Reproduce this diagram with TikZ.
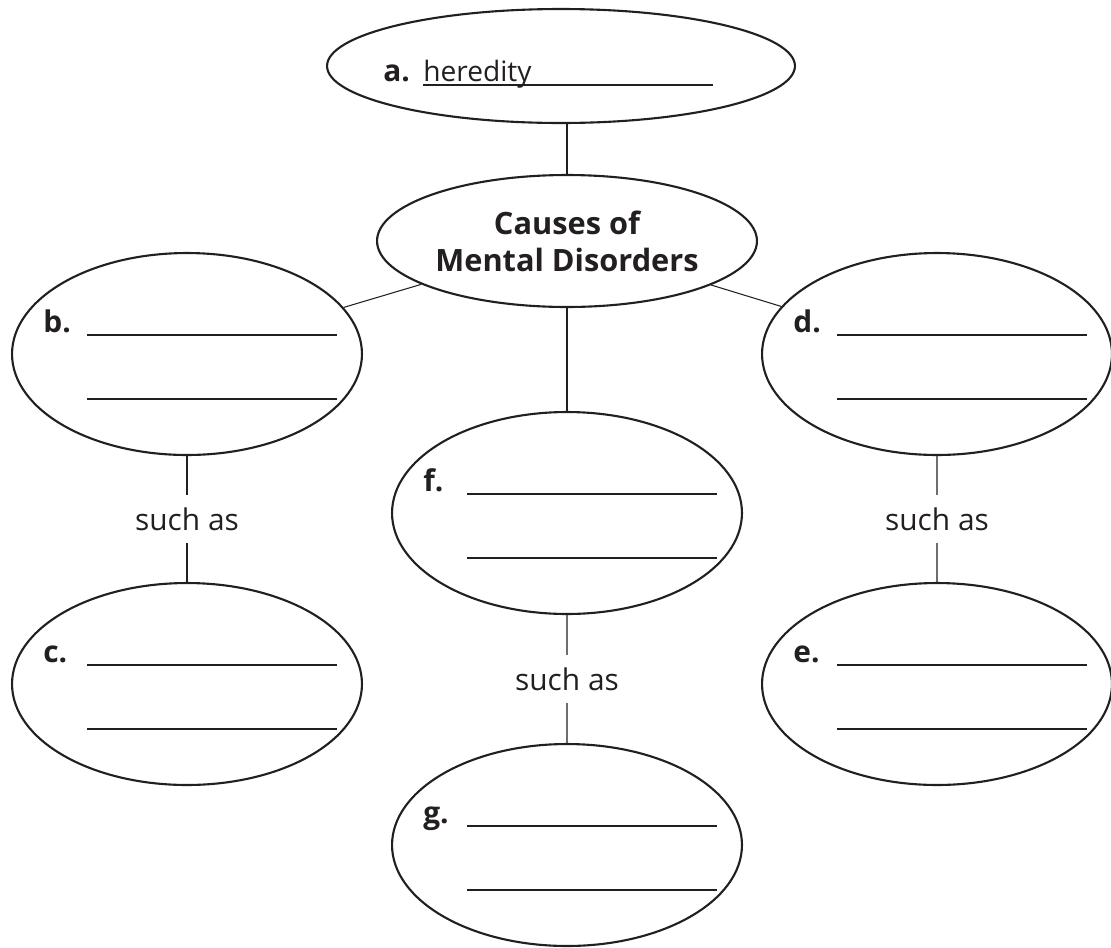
\documentclass[tikz,border=0pt]{standalone}
\usepackage{fontspec}
\setmainfont{Open Sans}
\usetikzlibrary{calc,shapes.geometric}
\definecolor{ink}{HTML}{231F20}

\begin{document}
\begin{tikzpicture}[x=0.02cm,y=-0.02cm,
  oval/.style={draw=ink,ellipse,line width=1.2pt,inner sep=0pt,text=ink},
  sat/.style={oval,minimum width=7cm,minimum height=4.04cm},
  link/.style={draw=ink,line width=0.6pt},
  blank/.style={draw=ink,line width=0.7pt},
  tag/.style={anchor=base west,inner sep=0pt,text=ink,font=\bfseries\fontsize{17}{20}\selectfont},
  via/.style={inner sep=7pt,text=ink,font=\fontsize{17}{20}\selectfont}]
  \useasboundingbox (0,0) rectangle (1111,947);
  % centre and top
  \node[oval,minimum width=9.36cm,minimum height=2.28cm] (a) at (561,66) {};
  \node[oval,minimum width=7.6cm,minimum height=2.64cm,align=center,
    font=\bfseries\fontsize{17.5}{21}\selectfont] (mid) at (567,241) {Causes of\\Mental Disorders};
  \node[tag] (a-tag) at ($(a)+(-178,15)$) {a.};
  \node[tag,font=\fontsize{16}{19}\selectfont] (a-ans) at ($(a)+(-138,15)$) {heredity};
  \draw[blank] ($(a)+(-138,19)$) -- ++(290,0);
  % the six blanks
  \node[sat] (b) at (187,354) {};
  \node[sat] (c) at (187,684) {};
  \node[sat] (d) at (937,354) {};
  \node[sat] (e) at (937,684) {};
  \node[sat] (f) at (567,513) {};
  \node[sat] (g) at (567,845) {};
  \foreach \n in {b,c,d,e,f,g}{
    \node[tag] (\n-tag) at ($(\n)+(-144,-22)$) {\n.};
    \draw[blank] ($(\n)+(-100,-19)$) -- ++(250,0);
    \draw[blank] ($(\n)+(-100,45)$) -- ++(250,0);
  }
  \node[via] (sb) at ($(b)!0.5!(c)$) {such as};
  \node[via] (sd) at ($(d)!0.5!(e)$) {such as};
  \node[via] (sf) at ($(f)!0.5!(g)$) {such as};
  \draw[link] (mid.north) -- (mid.north |- a.south);
  \draw[link] (mid) -- (b);
  \draw[link] (mid) -- (d);
  \draw[link] (mid) -- (f);
  \draw[link] (b) -- (sb) -- (c);
  \draw[link] (d) -- (sd) -- (e);
  \draw[link] (f) -- (sf) -- (g);
\end{tikzpicture}
\end{document}
